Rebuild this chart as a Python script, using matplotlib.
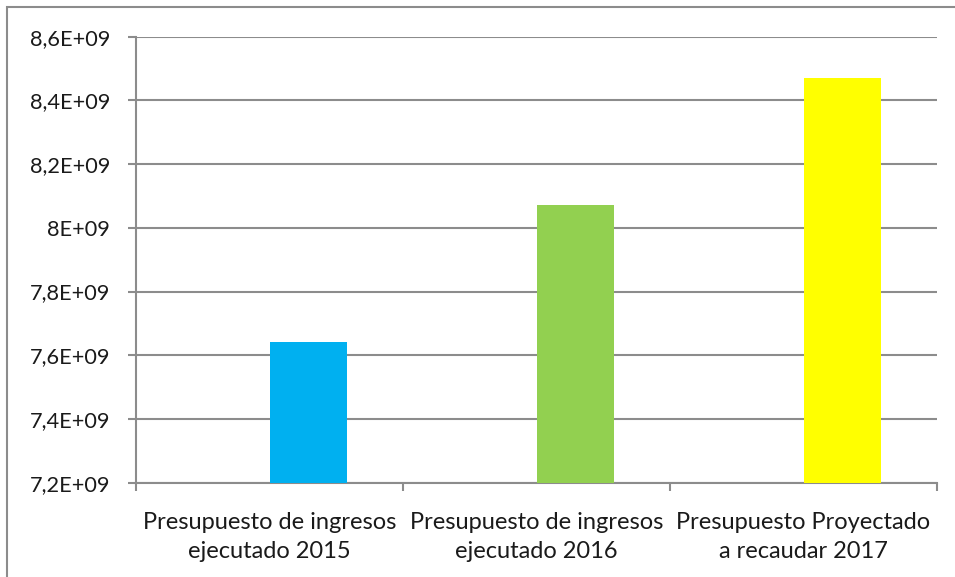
import matplotlib
matplotlib.use("Agg")
import matplotlib.pyplot as plt
from matplotlib.patches import Rectangle

categories = ["Presupuesto de ingresos\nejecutado 2015",
              "Presupuesto de ingresos\nejecutado 2016",
              "Presupuesto Proyectado\na recaudar 2017"]
values = [7.642e9, 8.072e9, 8.470e9]
colors = ["#00B0F0", "#92D050", "#FFFF00"]
yticks = [7.2e9, 7.4e9, 7.6e9, 7.8e9, 8.0e9, 8.2e9, 8.4e9, 8.6e9]
ytick_labels = ["7,2E+09", "7,4E+09", "7,6E+09", "7,8E+09", "8E+09", "8,2E+09", "8,4E+09", "8,6E+09"]

plt.rcParams['font.family'] = ['Lato', 'DejaVu Sans']

W, H = 955, 577
fig = plt.figure(figsize=(W / 100, H / 100), dpi=100)
fig.patch.set_facecolor("white")
fig.add_artist(Rectangle((7 / W, -0.1), 1.2, 1 - 7 / H + 0.1, transform=fig.transFigure,
                         fill=False, edgecolor="#8C8C8C", linewidth=1.5))

left, right, top, bottom = 136, 937, 36.7, 482.7
ax = fig.add_axes([left / W, 1 - bottom / H, (right - left) / W, (bottom - top) / H])

x = list(range(len(categories)))
bar_w = 0.29
ax.bar([i + bar_w / 2 for i in x], values, width=bar_w, color=colors, zorder=3)
ax.set_xlim(-0.5, len(categories) - 0.5)
ax.set_ylim(yticks[0], yticks[-1])
ax.set_yticks(yticks)
ax.set_yticklabels(ytick_labels, fontsize=15.7, color="#1a1a1a")
ax.set_xticks(x)
ax.set_xticklabels(categories, fontsize=17, linespacing=1.45, color="#1a1a1a")
ax.set_xticks([i - 0.5 for i in range(len(categories) + 1)], minor=True)
ax.tick_params(axis='x', which='major', length=0, pad=21)
ax.tick_params(axis='x', which='minor', length=6, color="#8C8C8C", width=1.5)
ax.tick_params(axis='y', length=6, color="#8C8C8C", width=1.5, pad=12.5)
ax.grid(axis='y', color="#8C8C8C", linewidth=1.5, zorder=0)
for s in ["top", "right"]:
    ax.spines[s].set_visible(False)
for s in ["left", "bottom"]:
    ax.spines[s].set_color("#8C8C8C")
    ax.spines[s].set_linewidth(1.5)

fig.savefig("out.png", dpi=100)
